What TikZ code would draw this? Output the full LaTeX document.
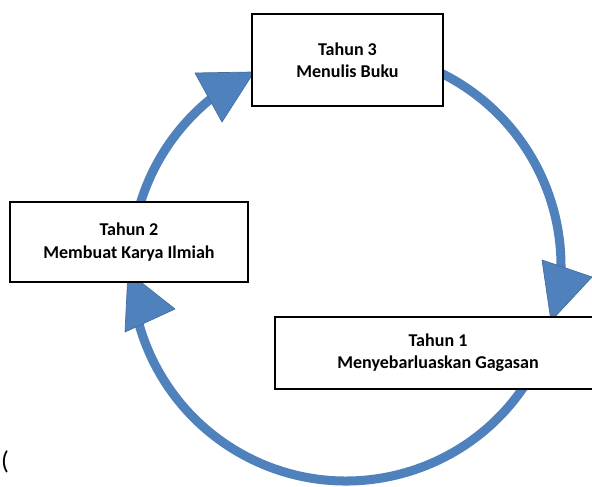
\documentclass[tikz,border=0pt]{standalone}
\usepackage{fontspec}
\setmainfont{Carlito}
\definecolor{cycleblue}{RGB}{79,129,189}

\begin{document}
\begin{tikzpicture}[x=0.03cm,y=0.03cm,
        yearbox/.style={draw=black,line width=1.7pt,fill=white,align=center,inner sep=0pt,
                font=\fontsize{15.4}{19}\selectfont\bfseries},
        cyclearc/.style={draw=cycleblue,line width=7.7pt,line cap=butt},
        headtri/.style={fill=cycleblue,draw=cycleblue!85!black,line width=0.6pt,line join=round}]
        \useasboundingbox (0,0) rectangle (592,487);
        \coordinate (c) at (346,221);
        % arcs of the cycle
        \draw[cyclearc] (c) ++(70:215) arc[start angle=70,end angle=-5,radius=215];
        \draw[cyclearc] (c) ++(-30:215) arc[start angle=-30,end angle=-168,radius=215];
        \draw[cyclearc] (c) ++(165:215) arc[start angle=165,end angle=125,radius=215];
        % arrow heads
        \filldraw[headtri] (551,166) -- (542,227) -- (592,210) -- cycle;
        \filldraw[headtri] (128,215) -- (125,155) -- (175,178) -- cycle;
        \filldraw[headtri] (254,415) -- (195,414) -- (222,365) -- cycle;
        % years
        \node[yearbox,minimum width=5.73cm,minimum height=2.76cm] (tahun3) at (347.5,427) {Tahun 3\\Menulis Buku};
        \node[yearbox,minimum width=7.14cm,minimum height=2.4cm] (tahun2) at (129,245) {Tahun 2\\Membuat Karya Ilmiah};
        \node[yearbox,minimum width=9.78cm,minimum height=2.16cm] (tahun1) at (438,134) {Tahun 1\\Menyebarluaskan Gagasan};
        \node[font=\fontsize{22}{24}\selectfont,inner sep=0pt] (paren) at (5,25) {(};
\end{tikzpicture}
\end{document}
